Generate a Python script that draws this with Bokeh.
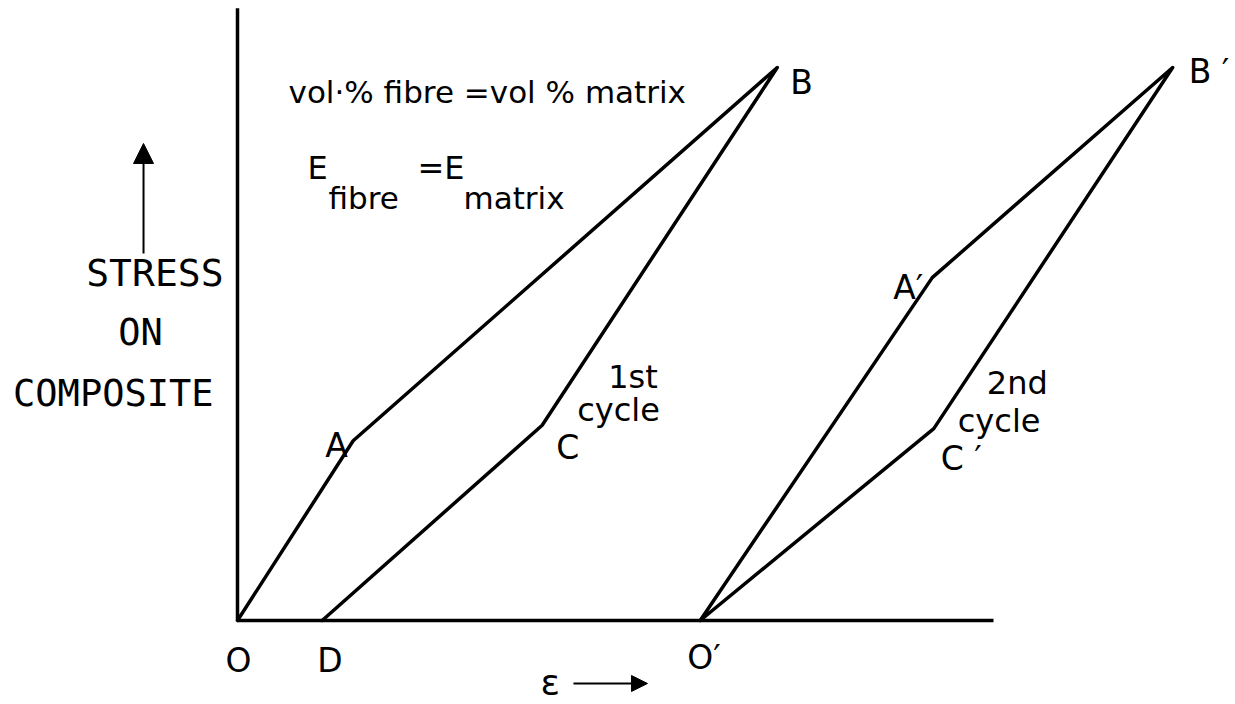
from bokeh.plotting import figure
from bokeh.models import Range1d, Arrow, NormalHead, ColumnDataSource
from bokeh.core.properties import value
from bokeh.embed import file_html
from bokeh.resources import INLINE

# ---- data (strain in arbitrary units, stress in arbitrary units) ----
cycle1_strain = [0.0, 1.53, 7.14, 4.03, 1.12]
cycle1_stress = [0.0, 3.25, 10.0, 3.53, 0.0]
cycle1_names = ["O", "A", "B", "C", "D"]

cycle2_strain = [6.12, 9.19, 12.37, 9.21, 6.12]
cycle2_stress = [0.0, 6.20, 10.0, 3.47, 0.0]
cycle2_names = ["O′", "A′", "B ′", "C ′"]

axis_strain_max = 10.0
axis_stress_max = 11.07

# ---- layout (pixels per unit, used only for ranges) ----
W, H = 1235, 704
PX_X = 75.6
PX_Y = 55.3
X0_PX, Y0_PX = 237, 84  # origin offset from left / bottom of frame
x_range = Range1d(-X0_PX / PX_X, (W - X0_PX) / PX_X)
y_range = Range1d(-Y0_PX / PX_Y, (H - Y0_PX) / PX_Y)

p = figure(width=W, height=H, x_range=x_range, y_range=y_range,
           output_backend="svg", toolbar_location=None,
           x_axis_type=None, y_axis_type=None, min_border=0)
p.grid.visible = False
p.outline_line_color = None
p.background_fill_color = "white"
p.border_fill_color = "white"

LW = 3.5
# axes
p.line([0, 0], [0, axis_stress_max], line_color="black", line_width=LW)
p.line([0, axis_strain_max], [0, 0], line_color="black", line_width=LW)

# cycles
p.line(cycle1_strain, cycle1_stress, line_color="black", line_width=LW,
       line_join="round", line_cap="round")
p.line(cycle2_strain, cycle2_stress, line_color="black", line_width=LW,
       line_join="round", line_cap="round")

FONT = value("DejaVu Sans")

# point labels (offsets in screen px)
lab1_dx = [-12, -28, 13, 14, -5]
lab1_dy = [40, 5, 15, 22, 40]
lab2_dx = [-13, -39, 16, 7]
lab2_dy = [37, 10, 4, 30]
src = ColumnDataSource(dict(
    x=cycle1_strain + cycle2_strain[:4],
    y=cycle1_stress + cycle2_stress[:4],
    t=cycle1_names + cycle2_names,
    dx=lab1_dx + lab2_dx,
    dy=lab1_dy + lab2_dy,
))
p.text(x="x", y="y", text="t", x_offset="dx", y_offset="dy", source=src,
       text_font=FONT, text_font_size=value("33px"), text_color="black",
       text_align="left", text_baseline="alphabetic")

# cycle annotations anchored on C and C'
cyc_src = ColumnDataSource(dict(
    x=[cycle1_strain[3]] * 2 + [cycle2_strain[3]] * 2,
    y=[cycle1_stress[3]] * 2 + [cycle2_stress[3]] * 2,
    t=["1st", "cycle", "2nd", "cycle"],
    dx=[66, 35, 53, 24],
    dy=[-48, -15, -46, -8],
))
p.text(x="x", y="y", text="t", x_offset="dx", y_offset="dy", source=cyc_src,
       text_font=FONT, text_font_size=value("32px"), text_color="black",
       text_align="left", text_baseline="alphabetic")

# header texts
p.text(x=[0.675], y=[9.548], text=["vol·% fibre =vol % matrix"],
       text_font=FONT, text_font_size=value("31px"), text_color="black",
       text_align="left", text_baseline="alphabetic")
p.text(x=[0.926, 2.381], y=[8.174, 8.174], text=["E", "=E"],
       text_font=FONT, text_font_size=value("32px"), text_color="black",
       text_align="left", text_baseline="alphabetic")
p.text(x=[1.204, 2.989], y=[7.649, 7.649], text=["fibre", "matrix"],
       text_font=FONT, text_font_size=value("31px"), text_color="black",
       text_align="left", text_baseline="alphabetic")

# y label
MONO = value("DejaVu Sans Mono")
p.text(x=[-0.185], y=[6.29], text=["STRESS"], text_align="right",
       text_font=MONO, text_font_size=value("38px"), text_color="black",
       text_baseline="alphabetic")
p.text(x=[-1.283], y=[5.208], text=["ON"], text_align="center",
       text_font=MONO, text_font_size=value("37px"), text_color="black",
       text_baseline="alphabetic")
p.text(x=[-0.317], y=[4.105], text=["COMPOSITE"], text_align="right",
       text_font=MONO, text_font_size=value("37px"), text_color="black",
       text_baseline="alphabetic")
p.add_layout(Arrow(x_start=-1.243, y_start=6.637, x_end=-1.243, y_end=8.626,
                   line_width=2, line_color="black",
                   end=NormalHead(size=20, fill_color="black", line_color="black")))

# x label
p.text(x=[4.008], y=[-1.12], text=["ε"], text_font=FONT,
       text_font_size=value("36px"), text_color="black",
       text_align="left", text_baseline="middle")
p.add_layout(Arrow(x_start=4.444, y_start=-1.139, x_end=5.423, y_end=-1.139,
                   line_width=2, line_color="black",
                   end=NormalHead(size=16, fill_color="black", line_color="black")))

open("out.html", "w").write(file_html(p, INLINE))
